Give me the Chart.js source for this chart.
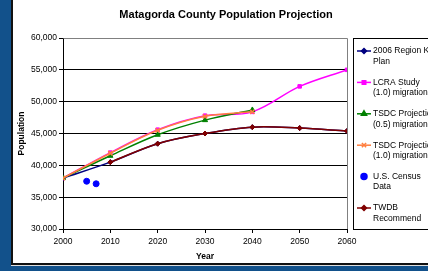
<!DOCTYPE html>
<html>
<head>
<meta charset="utf-8">
<script src="https://cdn.jsdelivr.net/npm/chart.js@4/dist/chart.umd.min.js"></script>
<style>
  html, body { margin:0; padding:0; width:428px; height:271px; overflow:hidden; background:#12518b; }
  .frame { position:absolute; left:11px; top:-2px; width:440px; height:265px; background:#fff;
           border-left:2px solid #111; border-bottom:2px solid #111; box-shadow:0 1px 0 #ddd; }
  #chart { position:absolute; left:0; top:0; }
</style>
</head>
<body>
<div class="frame"></div>
<canvas id="chart" width="440" height="264"></canvas>
<script>
'use strict';
const years     = [2000, 2010, 2020, 2030, 2040, 2050, 2060];
const regionK   = [38000, 40500, 43400, 45000, 46000, 45850, 45400];
const lcra      = [38000, 42000, 45600, 47800, 48400, 52400, 55000];
const tsdc05    = [38000, 41500, 44800, 47100, 48700, null, null];
const tsdc10    = [38000, 41900, 45500, 47700, 48400, null, null];
const twdb      = [null, 40500, 43400, 45000, 46000, 45850, 45400];
const censusYrs = [2005, 2007];
const censusPop = [37500, 37100];
const yTicks    = [30000, 35000, 40000, 45000, 50000, 55000, 60000];

const FONT = "'Liberation Sans', Arial, sans-serif";
const pts = (xs, ys) => xs.map((x, i) => ({ x, y: ys[i] }));

// series definitions (legend order); later ones are drawn on top
const SERIES = [
  { label:['2006 Region K', 'Plan'],     data: pts(years, regionK), color:'#000080', style:'rectRot',  r:2.5 },
  { label:['LCRA Study', '(1.0) migration'], data: pts(years, lcra), color:'#ff00ff', style:'rect',   r:2.5 },
  { label:['TSDC Projection', '(0.5) migration'], data: pts(years, tsdc05), color:'#008000', style:'triangle', r:3 },
  { label:['TSDC Projection', '(1.0) migration'], data: pts(years, tsdc10), color:'#ff7f3f', style:'crossRot', r:3 },
  { label:['U.S. Census', 'Data'],       data: pts(censusYrs, censusPop), color:'#0000ff', style:'circle', r:3, noLine:true },
  { label:['TWDB', 'Recommend'],         data: pts(years, twdb), color:'#800000', style:'rectRot', r:2.5 },
];

const datasets = SERIES.map((s, i) => ({
  label: s.label.join(' '),
  data: s.data,
  order: SERIES.length - i,
  showLine: !s.noLine,
  borderColor: s.color, backgroundColor: s.color,
  borderWidth: 1.5, tension: 0.35,
  pointStyle: s.style, pointRadius: s.r, pointBorderWidth: s.style === 'crossRot' ? 1.5 : 1,
  pointHoverRadius: s.r,
}));

const decor = {
  id: 'decor',
  afterDraw(chart) {
    const { ctx, chartArea: a } = chart;
    ctx.save();
    // grey plot border top/right
    ctx.strokeStyle = '#808080'; ctx.lineWidth = 1;
    ctx.beginPath();
    ctx.moveTo(Math.round(a.left) + 0.5, Math.round(a.top) + 0.5);
    ctx.lineTo(Math.round(a.right) + 0.5, Math.round(a.top) + 0.5);
    ctx.lineTo(Math.round(a.right) + 0.5, Math.round(a.bottom));
    ctx.stroke();

    // title
    ctx.fillStyle = '#000';
    ctx.font = `bold 11px ${FONT}`;
    ctx.textAlign = 'center'; ctx.textBaseline = 'middle';
    ctx.fillText('Matagorda County Population Projection', 226, 15);

    // legend box
    ctx.strokeStyle = '#000';
    ctx.strokeRect(353.5, 38.5, 100, 191);
    ctx.font = `8.5px ${FONT}`;
    ctx.textAlign = 'left';
    SERIES.forEach((s, i) => {
      const y = 51 + i * 31.4;
      ctx.fillStyle = s.color; ctx.strokeStyle = s.color;
      if (!s.noLine) {
        ctx.lineWidth = 1.5;
        ctx.beginPath(); ctx.moveTo(357, y); ctx.lineTo(371, y); ctx.stroke();
      }
      Chart.helpers.drawPoint(ctx, {
        pointStyle: s.style, radius: s.r, borderWidth: s.style === 'crossRot' ? 1.5 : 1,
      }, 364, y);
      ctx.fillStyle = '#000';
      ctx.fillText(s.label[0], 373, y);
      ctx.fillText(s.label[1], 373, y + 10.5);
    });
    ctx.restore();
  }
};

new Chart(document.getElementById('chart'), {
  type: 'line',
  data: { datasets },
  options: {
    responsive: false, animation: false,
    layout: { padding: { left: 0, top: 38, right: 93, bottom: 0 } },
    plugins: { legend: { display: false }, title: { display: false }, tooltip: { enabled: false } },
    scales: {
      x: {
        type: 'linear', min: 2000, max: 2060,
        afterFit: s => { s.height = 35; },
        border: { color: '#000', width: 1 },
        grid: { drawOnChartArea: false, tickLength: 4, color: '#000' },
        ticks: { stepSize: 10, padding: 4, color: '#000', font: { family: FONT, size: 8.5 }, maxRotation: 0,
                 callback: v => String(v) },
        title: { display: true, text: 'Year', color: '#000', font: { family: FONT, size: 8.5, weight: 'bold' },
                 padding: { top: 2, bottom: 2 } },
      },
      y: {
        min: 30000, max: 60000,
        afterFit: s => { s.width = 63; },
        afterBuildTicks: s => { s.ticks = yTicks.map(v => ({ value: v })); },
        border: { color: '#000', width: 1 },
        grid: { tickLength: 4, tickColor: '#000',
                color: c => c.tick && c.tick.value === 60000 ? '#808080' : '#000' },
        ticks: { padding: 2, color: '#000', font: { family: FONT, size: 8.5 },
                 callback: v => v.toLocaleString('en-US') },
        title: { display: true, text: 'Population', color: '#000', font: { family: FONT, size: 8.5, weight: 'bold' },
                 padding: { top: 17, bottom: 0 } },
      },
    },
  },
  plugins: [decor],
});
</script>
</body>
</html>
